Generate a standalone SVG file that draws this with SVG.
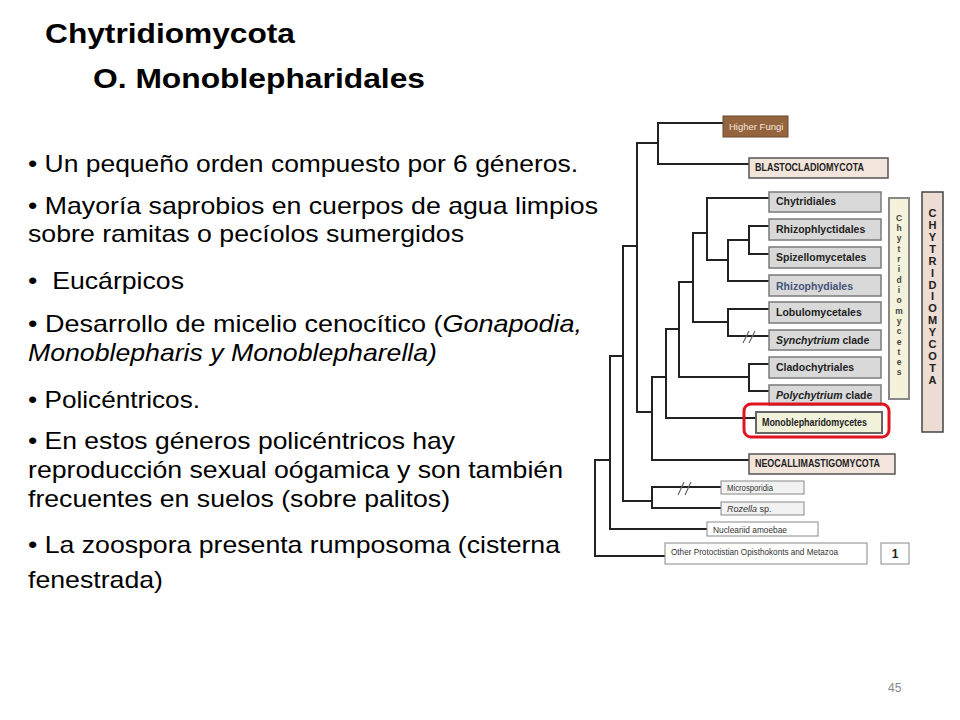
<svg xmlns="http://www.w3.org/2000/svg" width="960" height="720" viewBox="0 0 960 720">
<style>
.title{font-family:"Liberation Sans",Arial,sans-serif;font-weight:bold;font-size:28px;fill:#000}
.body{font-family:"Liberation Sans",Arial,sans-serif;font-size:24px;fill:#000}
.it{font-style:italic}
.ln{stroke:#222;stroke-width:2;fill:none;stroke-linecap:square}
.sl{stroke:#666;stroke-width:1.2;fill:none}
.gbox{fill:#d9d9d9;stroke:#7a7a7a;stroke-width:1.5}
.pbox{fill:#f3e4dc;stroke:#555;stroke-width:1.5}
.wbox{fill:#fff;stroke:#888;stroke-width:1}
.lbl{font-family:"Liberation Sans",Arial,sans-serif;font-weight:bold;font-size:10.5px;fill:#222}
.sm{font-family:"Liberation Sans",Arial,sans-serif;font-size:9px;fill:#333}
.vert1{font-family:"Liberation Sans",Arial,sans-serif;font-weight:bold;font-size:8.5px;fill:#444;text-anchor:middle}
.vert2{font-family:"Liberation Sans",Arial,sans-serif;font-weight:bold;font-size:11px;fill:#222;text-anchor:middle}
</style>
<rect width="960" height="720" fill="#fff"/>

<g id="titles">
<text class="title" x="45" y="43" textLength="250" lengthAdjust="spacingAndGlyphs">Chytridiomycota</text>
<text class="title" x="93" y="88" textLength="332" lengthAdjust="spacingAndGlyphs">O. Monoblepharidales</text>
</g>

<g id="bullets" class="body">
<text x="28" y="172" textLength="550" lengthAdjust="spacingAndGlyphs">• Un pequeño orden compuesto por 6 géneros.</text>
<text x="28" y="214" textLength="570" lengthAdjust="spacingAndGlyphs">• Mayoría saprobios en cuerpos de agua limpios</text>
<text x="28" y="242" textLength="436" lengthAdjust="spacingAndGlyphs">sobre ramitas o pecíolos sumergidos</text>
<text x="28" y="289" textLength="156" lengthAdjust="spacingAndGlyphs">• &#160;Eucárpicos</text>
<text x="28" y="332" textLength="554" lengthAdjust="spacingAndGlyphs">• Desarrollo de micelio cenocítico (<tspan class="it">Gonapodia,</tspan></text>
<text x="28" y="361" class="it" textLength="409" lengthAdjust="spacingAndGlyphs">Monoblepharis y Monoblepharella)</text>
<text x="28" y="408" textLength="172" lengthAdjust="spacingAndGlyphs">• Policéntricos.</text>
<text x="28" y="449" textLength="427" lengthAdjust="spacingAndGlyphs">• En estos géneros policéntricos hay</text>
<text x="28" y="478" textLength="535" lengthAdjust="spacingAndGlyphs">reproducción sexual oógamica y son también</text>
<text x="28" y="507" textLength="422" lengthAdjust="spacingAndGlyphs">frecuentes en suelos (sobre palitos)</text>
<text x="28" y="553" textLength="532" lengthAdjust="spacingAndGlyphs">• La zoospora presenta rumposoma (cisterna</text>
<text x="28" y="588" textLength="135" lengthAdjust="spacingAndGlyphs">fenestrada)</text>
</g>

<g id="connectors">
<path class="ln" d="M658 123H723 M658 123V164 M658 164H749 M637 143H658 M637 143V412 M623 246H637"/>
<path class="ln" d="M707 198H769 M707 198V260 M707 260H728 M728 240V281 M728 240H749 M749 226V254 M749 226H769 M749 254H769 M728 281H769"/>
<path class="ln" d="M693 233H707 M693 233V322 M693 322H728 M728 309V336 M728 309H769 M728 336H769"/>
<path class="ln" d="M679 282H693 M679 282V377 M679 377H749 M749 364V391 M749 364H769 M749 391H769"/>
<path class="ln" d="M666 329H679 M666 329V418 M666 418H756"/>
<path class="ln" d="M652 377H666 M652 377V460 M652 460H749 M637 412H652"/>
<path class="ln" d="M623 246V501 M610 356H623 M623 501H652 M652 487V508 M652 487H721 M652 508H721"/>
<path class="ln" d="M610 356V529 M610 529H707 M595 460H610 M595 460V556 M595 556H665"/>
<path class="sl" d="M743 343L749 331 M749 343L755 331 M678 495L684 482 M685 495L691 482"/>
</g>

<g id="higher-fungi"><rect x="723" y="116" width="65" height="21" fill="#94643f" stroke="#6b4a30" stroke-width="1"/><text x="729" y="130" font-family="Liberation Sans, Arial, sans-serif" font-size="9.5" fill="#f3e6da">Higher Fungi</text></g>
<g id="blasto"><rect class="pbox" x="749" y="158" width="139" height="20"/><text class="lbl" x="755" y="171" font-size="9" textLength="109" lengthAdjust="spacingAndGlyphs">BLASTOCLADIOMYCOTA</text></g>
<g id="chytridiales"><rect class="gbox" x="769" y="192" width="112" height="20"/><text class="lbl" x="776" y="205">Chytridiales</text></g>
<g id="rhizophlyctidales"><rect class="gbox" x="769" y="219" width="112" height="21"/><text class="lbl" x="776" y="233">Rhizophlyctidales</text></g>
<g id="spizellomycetales"><rect class="gbox" x="769" y="247" width="112" height="21"/><text class="lbl" x="776" y="261">Spizellomycetales</text></g>
<g id="rhizophydiales"><rect class="gbox" x="769" y="275" width="112" height="21"/><text class="lbl" x="776" y="290" font-size="11.5" style="fill:#44557a">Rhizophydiales</text></g>
<g id="lobulomycetales"><rect class="gbox" x="769" y="302" width="112" height="21"/><text class="lbl" x="776" y="316">Lobulomycetales</text></g>
<g id="synchytrium"><rect class="gbox" x="769" y="330" width="112" height="20"/><text class="lbl" x="776" y="344"><tspan font-style="italic">Synchytrium</tspan> clade</text></g>
<g id="cladochytriales"><rect class="gbox" x="769" y="357" width="112" height="21"/><text class="lbl" x="776" y="371">Cladochytriales</text></g>
<g id="polychytrium"><rect class="gbox" x="769" y="385" width="112" height="20"/><text class="lbl" x="776" y="399"><tspan font-style="italic">Polychytrium</tspan> clade</text></g>
<g id="monoblepharidomycetes"><rect x="756" y="412" width="126" height="21" fill="#f2f1da" stroke="#666" stroke-width="2"/><text class="lbl" x="762" y="426" font-size="9" textLength="105" lengthAdjust="spacingAndGlyphs">Monoblepharidomycetes</text><rect x="744" y="404" width="145" height="33" rx="7" fill="none" stroke="#e0141e" stroke-width="3"/></g>
<g id="neocalli"><rect class="pbox" x="749" y="454" width="146" height="20"/><text class="lbl" x="755" y="467" font-size="9" textLength="125" lengthAdjust="spacingAndGlyphs">NEOCALLIMASTIGOMYCOTA</text></g>
<g id="microsporidia"><rect x="721" y="481" width="83" height="13" fill="#f2f2f2" stroke="#888" stroke-width="1"/><text class="sm" x="727" y="491" font-size="8.5" textLength="46" lengthAdjust="spacingAndGlyphs">Microsporidia</text></g>
<g id="rozella"><rect x="721" y="502" width="83" height="13" fill="#f2f2f2" stroke="#888" stroke-width="1"/><text class="sm" x="727" y="512" font-size="8.5"><tspan font-style="italic">Rozella</tspan> sp.</text></g>
<g id="nucleariid"><rect class="wbox" x="707" y="522" width="111" height="14"/><text class="sm" x="713" y="533" font-size="9.5" textLength="74" lengthAdjust="spacingAndGlyphs">Nucleariid amoebae</text></g>
<g id="other"><rect class="wbox" x="665" y="543" width="202" height="21"/><text class="sm" x="671" y="555" font-size="9.5" textLength="167" lengthAdjust="spacingAndGlyphs">Other Protoctistian Opisthokonts and Metazoa</text></g>
<g id="fig-num"><rect class="wbox" x="881" y="543" width="28" height="21"/><text x="895" y="558" text-anchor="middle" font-family="Liberation Sans, Arial, sans-serif" font-weight="bold" font-size="12" fill="#222">1</text></g>

<g id="chytridiomycetes-bar"><rect x="889" y="198" width="20" height="201" fill="#f4f2da" stroke="#888" stroke-width="2"/>
<text class="vert1"><tspan x="899" y="221">C</tspan><tspan x="899" y="231">h</tspan><tspan x="899" y="241">y</tspan><tspan x="899" y="252">t</tspan><tspan x="899" y="262">r</tspan><tspan x="899" y="272">i</tspan><tspan x="899" y="283">d</tspan><tspan x="899" y="293">i</tspan><tspan x="899" y="303">o</tspan><tspan x="899" y="314">m</tspan><tspan x="899" y="324">y</tspan><tspan x="899" y="334">c</tspan><tspan x="899" y="345">e</tspan><tspan x="899" y="355">t</tspan><tspan x="899" y="365">e</tspan><tspan x="899" y="375">s</tspan></text></g>
<g id="chytridiomycota-bar"><rect x="922" y="192" width="21" height="240" fill="#ecdcd3" stroke="#444" stroke-width="1.5"/>
<text class="vert2"><tspan x="932.5" y="217">C</tspan><tspan x="932.5" y="229">H</tspan><tspan x="932.5" y="241">Y</tspan><tspan x="932.5" y="253">T</tspan><tspan x="932.5" y="265">R</tspan><tspan x="932.5" y="277">I</tspan><tspan x="932.5" y="289">D</tspan><tspan x="932.5" y="300">I</tspan><tspan x="932.5" y="312">O</tspan><tspan x="932.5" y="324">M</tspan><tspan x="932.5" y="336">Y</tspan><tspan x="932.5" y="348">C</tspan><tspan x="932.5" y="360">O</tspan><tspan x="932.5" y="372">T</tspan><tspan x="932.5" y="384">A</tspan></text></g>

<g id="page-number"><text x="888" y="692" font-family="Liberation Sans, Arial, sans-serif" font-size="12" fill="#888">45</text></g>
</svg>
